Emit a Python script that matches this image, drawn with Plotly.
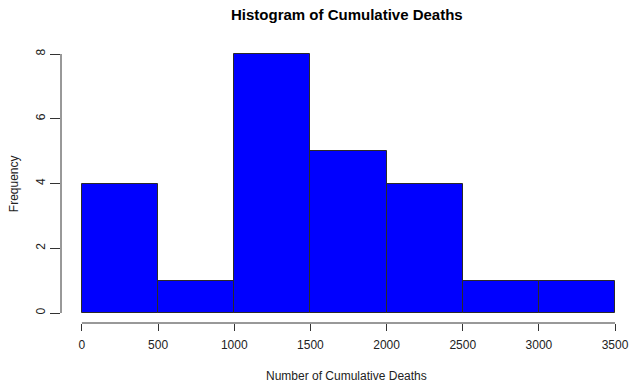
import plotly.graph_objects as go

# Data
bin_edges = [0, 500, 1000, 1500, 2000, 2500, 3000, 3500]
frequencies = [4, 1, 8, 5, 4, 1, 1]
x_ticks = [0, 500, 1000, 1500, 2000, 2500, 3000, 3500]
y_ticks = [0, 2, 4, 6, 8]
title_text = "Histogram of Cumulative Deaths"
x_label = "Number of Cumulative Deaths"
y_label = "Frequency"

W, H = 629, 386
ML, MR, MT, MB = 61, 0, 44, 63
PW = W - ML - MR
PH = H - MT - MB

def px_x(p):  # pixel -> paper x
    return (p - ML) / PW

def px_y(p):  # pixel -> paper y
    return 1 - (p - MT) / PH

centers = [(bin_edges[i] + bin_edges[i + 1]) / 2 for i in range(len(frequencies))]
widths = [bin_edges[i + 1] - bin_edges[i] for i in range(len(frequencies))]

font = "Liberation Sans, Arial, sans-serif"
axcol = "#333333"

fig = go.Figure(go.Bar(
    x=centers, y=frequencies, width=widths,
    marker=dict(color="#0000FF", line=dict(color="#2a2a2a", width=1)),
    hoverinfo="skip",
))

fig.update_layout(
    width=W, height=H,
    margin=dict(l=ML, r=MR, t=MT, b=MB, pad=0),
    plot_bgcolor="white", paper_bgcolor="white",
    showlegend=False,
    bargap=0,
    font=dict(family=font, size=12, color="#222222"),
    xaxis=dict(range=[-137.4, 3578.5], tickvals=x_ticks, ticks="outside", ticklen=7,
               tickcolor=axcol, tickwidth=1, showgrid=False, zeroline=False, showline=False,
               ticklabeloverflow="allow", ticklabelstandoff=4,
               tickfont=dict(size=12, color="#222222", family=font)),
    yaxis=dict(range=[-0.309, 8.309], tickvals=y_ticks, ticks="outside", ticklen=10,
               tickcolor=axcol, tickwidth=1, showgrid=False, zeroline=False, showline=False,
               ticklabeloverflow="allow",
               tickangle=-90, tickfont=dict(size=12, color="#222222", family=font)),
    shapes=[
        dict(type="line", xref="x", yref="paper", x0=x_ticks[0], x1=x_ticks[-1], y0=0, y1=0,
             line=dict(color=axcol, width=1)),
        dict(type="line", xref="paper", yref="y", x0=0, x1=0, y0=y_ticks[0], y1=y_ticks[-1],
             line=dict(color=axcol, width=1)),
    ],
    annotations=[
        dict(text="<b>" + title_text + "</b>", xref="paper", yref="paper",
             x=px_x(348), y=px_y(14), showarrow=False, xanchor="center", yanchor="middle",
             font=dict(size=15, color="#000000", family=font)),
        dict(text=x_label, xref="paper", yref="paper", x=px_x(348), y=px_y(376),
             showarrow=False, xanchor="center", yanchor="middle",
             font=dict(size=12, color="#222222", family=font)),
        dict(text=y_label, xref="paper", yref="paper", x=px_x(14), y=px_y(184),
             showarrow=False, xanchor="center", yanchor="middle", textangle=-90,
             font=dict(size=12, color="#222222", family=font)),
    ],
)

fig.write_html("out.html", config={"displayModeBar": False},
               post_script="document.body.style.margin='0';document.body.style.overflow='hidden';")
